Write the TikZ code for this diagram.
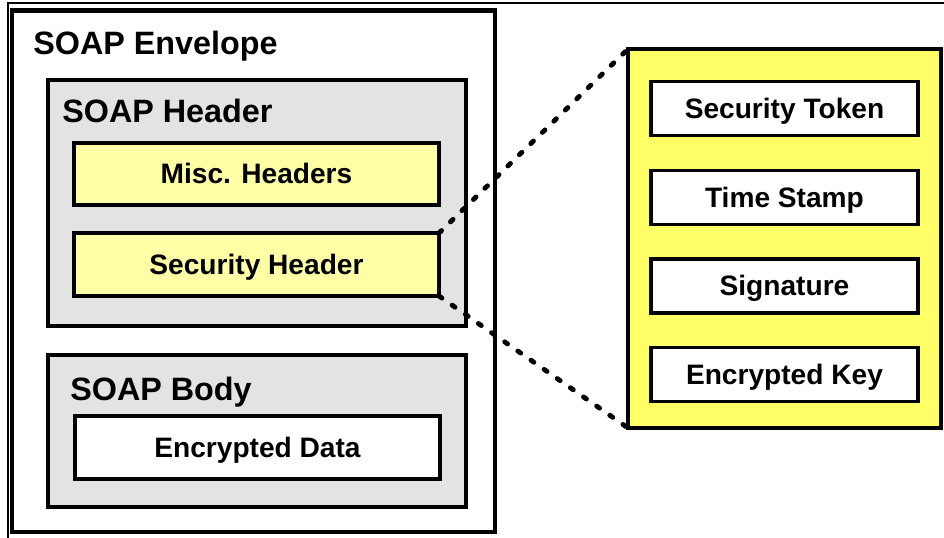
\documentclass[tikz,border=0pt]{standalone}
\usepackage{fontspec}
\setmainfont{Liberation Sans}
\definecolor{boxgray}{HTML}{E3E3E3}
\definecolor{paleyel}{HTML}{FFFFA6}
\definecolor{brightyel}{HTML}{FFFF66}

\begin{document}
\begin{tikzpicture}[
    grp/.style={rectangle, draw, fill=boxgray, line width=2.3pt, inner sep=0pt, outer sep=0pt},
    n/.style={rectangle, draw, fill=white, line width=2.3pt, inner sep=0pt, outer sep=0pt, minimum width=9.125cm, minimum height=1.575cm, text height=13.6pt, text depth=0pt, font=\fontsize{20}{24}\selectfont\bfseries},
    sn/.style={n, minimum width=6.675cm, minimum height=1.35cm},
    t/.style={anchor=base west, inner sep=0pt, font=\fontsize{23}{27}\selectfont\bfseries},
    dots/.style={line width=3.5pt, line cap=round, dash pattern=on 2.5pt off 8.9pt},
]
\useasboundingbox (0,0) rectangle (23.6,13.45);
\draw[line width=0.8pt] (0.2,0) -- (0.2,13.375) -- (23.6,13.375);

% envelope
\node[rectangle, draw, fill=white, line width=3.2pt, inner sep=0pt, outer sep=0pt, minimum width=12.075cm, minimum height=13.04cm] (env) at (6.3375,6.669) {};
\node[t] (envt) at (0.825,12.075) {SOAP Envelope};

% header
\node[grp, minimum width=10.45cm, minimum height=6.15cm] (hdr) at (6.425,8.375) {};
\node[t] (hdrt) at (1.55,10.375) {SOAP Header};
\node[n, fill=paleyel, minimum height=1.55cm] (misc) at (6.4125,9.1) {Misc. Headers};
\node[n, fill=paleyel] (sechdr) at (6.4125,6.8375) {Security Header};

% body
\node[grp, minimum width=10.45cm, minimum height=3.8cm] (body) at (6.425,2.675) {};
\node[t] (bodyt) at (1.75,3.425) {SOAP Body};
\node[n] (encdata) at (6.4375,2.2625) {Encrypted Data};

% security header contents
\node[rectangle, draw, fill=brightyel, line width=2.8pt, inner sep=0pt, outer sep=0pt, minimum width=7.825cm, minimum height=9.475cm] (wsse) at (19.6125,7.4875) {};
\node[sn] (tok) at (19.6125,10.7375) {Security Token};
\node[sn] (ts) at (19.6125,8.5125) {Time Stamp};
\node[sn] (sig) at (19.6125,6.3) {Signature};
\node[sn] (ekey) at (19.6125,4.0875) {Encrypted Key};

\draw[dots] (sechdr.north east) -- (wsse.north west);
\draw[dots] (sechdr.south east) -- (wsse.south west);
\end{tikzpicture}
\end{document}
